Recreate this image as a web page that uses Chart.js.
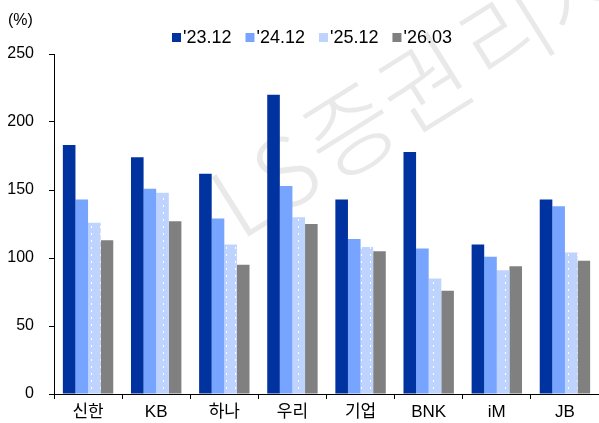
<!DOCTYPE html>
<html>
<head>
<meta charset="utf-8">
<script src="https://cdn.jsdelivr.net/npm/chart.js@4/dist/chart.umd.min.js"></script>
<style>
  html, body { margin: 0; padding: 0; background: #fff; }
  #wrap { width: 599px; height: 423px; position: relative; }
</style>
</head>
<body>
<div id="wrap"><canvas id="myChart"></canvas></div>
<script>
// datos de la grafica
const categorias = ['신한', 'KB', '하나', '우리', '기업', 'BNK', 'iM', 'JB'];
const series = ["'23.12", "'24.12", "'25.12", "'26.03"];
const v2312 = [183, 174, 162, 220, 143, 178, 110, 143];
const v2412 = [143, 151, 129, 153, 114, 107, 101, 138];
const v2512 = [126, 148, 110, 130, 108, 85, 91, 104];
const v2603 = [113, 127, 95, 125, 105, 76, 94, 98];
const yTicks = [0, 50, 100, 150, 200, 250];

const FUENTE = "'Liberation Sans', 'Noto Sans CJK KR', sans-serif";

// patron de puntos para la serie '25.12
function patronPuntos() {
  let c = document.createElement('canvas');
  c.width = 9; c.height = 7;
  let g = c.getContext('2d');
  g.fillStyle = '#bfd3ff';
  g.fillRect(0, 0, 9, 7);
  g.fillStyle = '#ffffff';
  g.fillRect(1, 2, 1, 2);
  return g.createPattern(c, 'repeat');
}

// marca de agua
const marcaAgua = {
  id: 'marcaAgua',
  beforeDatasetsDraw(chart) {
    let ctx = chart.ctx;
    ctx.save();
    ctx.translate(240, 242);
    ctx.rotate(-32 * Math.PI / 180);
    ctx.font = "300 96px 'Noto Sans CJK KR'";
    ctx.fillStyle = '#e9e9e9';
    ctx.textBaseline = 'alphabetic';
    ctx.fillText('LS', 0, 0);
    ctx.fillText('증권', 108, 0);
    ctx.fillText('리서치센터', 292, 0);
    ctx.restore();
  }
};

// leyenda y unidad
const textos = {
  id: 'textos',
  afterDraw(chart) {
    let ctx = chart.ctx;
    ctx.save();
    ctx.fillStyle = '#000';
    ctx.font = '16px ' + FUENTE;
    ctx.textBaseline = 'middle';
    ctx.fillText('(%)', 8, 21);

    ctx.font = '18px ' + FUENTE;
    let x = 172;
    chart.data.datasets.forEach((ds) => {
      ctx.fillStyle = ds.legendColor;
      ctx.fillRect(x, 33, 9, 9);
      ctx.fillStyle = '#000';
      ctx.fillText(ds.label, x + 11, 38);
      x += 11 + ctx.measureText(ds.label).width + 14;
    });
    ctx.restore();
  }
};

let colores = ['#0033a0', '#76a4ff', patronPuntos(), '#808080'];
let coloresLeyenda = ['#0033a0', '#76a4ff', '#bfd3ff', '#808080'];
let valores = [v2312, v2412, v2512, v2603];

let chartdata = {
  labels: categorias,
  datasets: series.map((s, k) => ({
    label: s,
    data: valores[k],
    backgroundColor: colores[k],
    legendColor: coloresLeyenda[k],
    borderWidth: 0,
    categoryPercentage: 0.74,
    barPercentage: 1.0
  }))
};

let grafica = new Chart(document.getElementById('myChart'), {
  type: 'bar',
  data: chartdata,
  options: {
    responsive: true,
    maintainAspectRatio: false,
    animation: false,
    layout: { padding: { top: 54, right: 0, left: 0, bottom: 0 } },
    plugins: {
      legend: { display: false },
      tooltip: { enabled: false }
    },
    scales: {
      x: {
        grid: { display: true, drawOnChartArea: false, color: '#000', tickLength: 5, offset: true },
        border: { color: '#000', width: 1 },
        ticks: { color: '#000', font: { size: 17, family: FUENTE }, padding: 3, maxRotation: 0 },
        afterFit: (scale) => { scale.height = 29; }
      },
      y: {
        min: 0,
        max: 250,
        afterBuildTicks: (scale) => { scale.ticks = yTicks.map(v => ({ value: v })); },
        grid: { display: true, drawOnChartArea: false, color: '#000', tickLength: 5 },
        border: { color: '#000', width: 1 },
        ticks: { color: '#000', font: { size: 16, family: FUENTE }, padding: 15 },
        afterFit: (scale) => { scale.width = 54; }
      }
    }
  },
  plugins: [marcaAgua, textos]
});
</script>
</body>
</html>
